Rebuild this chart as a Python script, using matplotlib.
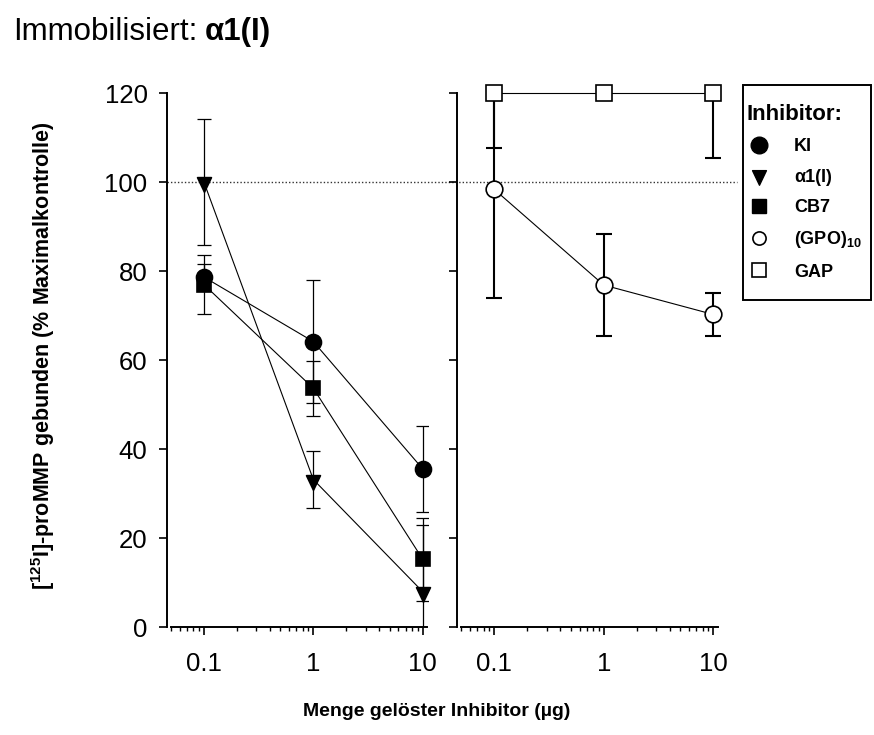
import numpy as np
import matplotlib
matplotlib.use("Agg")
import matplotlib.pyplot as plt
from matplotlib.path import Path
from matplotlib.lines import Line2D
from matplotlib.patches import Rectangle
from matplotlib.ticker import FixedLocator, FixedFormatter, LogLocator, NullFormatter
from matplotlib.transforms import blended_transform_factory

plt.rcParams["font.family"] = ["Liberation Sans", "DejaVu Sans"]
plt.rcParams["mathtext.fontset"] = "custom"
plt.rcParams["mathtext.rm"] = "Liberation Sans"
plt.rcParams["mathtext.bf"] = "Liberation Sans:bold"

# ---- data -------------------------------------------------------------
doses = [0.1, 1, 10]
dose_labels = ["0.1", "1", "10"]
y_ticks = [0, 20, 40, 60, 80, 100, 120]
control_level = 100

ki_mean = [78.7, 64.2, 35.6]
ki_err = [3.0, 13.9, 9.6]
a1_mean = [100.0, 33.2, 8.0]
a1_err = [14.2, 6.5, 15.0]
cb7_mean = [77.0, 53.7, 15.3]
cb7_err = [6.6, 6.2, 9.3]
gpo_mean = [98.4, 76.9, 70.3]
gpo_err = [24.5, 11.5, 4.9]
gap_mean = [120, 120, 120]
gap_err = [12.2, 1.0, 14.5]

legend_labels = ["KI", "α1(I)", "CB7", r"(GPO)$_{\mathbf{10}}$", "GAP"]

# ---- figure -----------------------------------------------------------
W, H = 874, 735
fig = plt.figure(figsize=(W / 100, H / 100), dpi=100)


def px_rect(l, t, r, b):
    return [l / W, 1 - b / H, (r - l) / W, (b - t) / H]


ax1 = fig.add_axes(px_rect(167, 93.3, 428, 627.3))
ax2 = fig.add_axes(px_rect(456.7, 93.3, 720, 627.3))
ax1.set_xlim(0.04588, 11.18)
ax2.set_xlim(0.04535, 11.51)

# downward triangle centred on its centroid
tri_down = Path([(-1, 0.7), (1, 0.7), (0, -1.4), (-1, 0.7)],
                [Path.MOVETO, Path.LINETO, Path.LINETO, Path.CLOSEPOLY])


def series(ax, mean, err, marker, ms, face, elw, cap, zo):
    ax.errorbar(doses, mean, yerr=err, fmt="none", ecolor="k",
                elinewidth=elw, capsize=cap, capthick=elw, zorder=zo)
    ax.plot(doses, mean, color="k", lw=0.8, marker=marker, ms=ms,
            mfc=face, mec="k", mew=1.2, zorder=zo + 1, clip_on=False)


series(ax1, cb7_mean, cb7_err, "s", 10.5, "k", 0.9, 4.7, 3)
series(ax1, ki_mean, ki_err, "o", 11.5, "k", 0.9, 4.7, 5)
series(ax1, a1_mean, a1_err, tri_down, 14, "k", 0.9, 4.7, 7)

series(ax2, gpo_mean, gpo_err, "o", 12, "white", 1.5, 6, 3)
series(ax2, gap_mean, gap_err, "s", 11.5, "white", 1.5, 6, 5)

for ax in (ax1, ax2):
    ax.set_xscale("log")
    ax.set_ylim(0, 120)
    ax.set_yticks(y_ticks)
    ax.xaxis.set_major_locator(FixedLocator(doses))
    ax.xaxis.set_major_formatter(FixedFormatter(dose_labels))
    ax.xaxis.set_minor_locator(LogLocator(base=10, subs=np.arange(2, 10), numticks=50))
    ax.xaxis.set_minor_formatter(NullFormatter())
    for s in ("top", "right"):
        ax.spines[s].set_visible(False)
    for s in ("left", "bottom"):
        ax.spines[s].set_linewidth(1.4)
    ax.spines["bottom"].set_bounds(0.05, 11)
    ax.tick_params(which="major", length=6, width=1.2, labelsize=18.5)
    ax.tick_params(axis="y", pad=8)
    ax.tick_params(axis="x", pad=12)
    ax.tick_params(which="minor", length=3, width=1.0)
    ax.patch.set_alpha(0)

ax2.tick_params(axis="y", labelleft=False)

# dotted reference line at the control level across both panels
ref_tr = blended_transform_factory(fig.transFigure, ax1.transData)
ax1.plot([167 / W, 737 / W], [control_level, control_level], transform=ref_tr,
         color="#333333", lw=1.0, ls=(0, (1, 1.5)), clip_on=False, zorder=0.5)

# ---- texts ------------------------------------------------------------
t1 = fig.text(13 / W, 1 - 40 / H, "Immobilisiert:", fontsize=22.5, va="baseline")
renderer = fig.canvas.get_renderer()
bb = t1.get_window_extent(renderer)
fig.text((bb.x1 + 7) / W, 1 - 40 / H, "α1(I)", fontsize=22.5, va="baseline",
         weight="bold")

fig.text(43 / W, 1 - 356 / H,
         r"[$^{\mathbf{125}}$I]-proMMP gebunden (% Maximalkontrolle)",
         rotation=90, ha="center", va="center", fontsize=15.5, weight="bold")
fig.text(437 / W, 1 - 712 / H, "Menge gelöster Inhibitor (µg)",
         ha="center", va="center", fontsize=14, weight="bold")

# ---- legend -----------------------------------------------------------
legend_frame = Rectangle((743 / W, 1 - 300 / H), 128 / W, 215 / H,
                         transform=fig.transFigure, facecolor="white",
                         edgecolor="k", lw=1.4, zorder=1)
fig.add_artist(legend_frame)

handles = [
    Line2D([], [], ls="none", marker="o", ms=12, mfc="k", mec="k"),
    Line2D([], [], ls="none", marker=tri_down, ms=14, mfc="k", mec="k"),
    Line2D([], [], ls="none", marker="s", ms=10.5, mfc="k", mec="k"),
    Line2D([], [], ls="none", marker="o", ms=9.5, mfc="white", mec="k", mew=1.2),
    Line2D([], [], ls="none", marker="s", ms=9.5, mfc="white", mec="k", mew=1.2),
]
leg = fig.legend(handles, legend_labels, loc="upper left",
                 bbox_to_anchor=(747 / W, 1 - 104 / H), borderaxespad=0,
                 title="Inhibitor:", title_fontproperties={"weight": "bold", "size": 16},
                 alignment="left", prop={"weight": "bold", "size": 13},
                 frameon=False, handlelength=1.3, handletextpad=1.3,
                 labelspacing=0.74, borderpad=0)
leg.set_zorder(5)

fig.savefig("out.png", dpi=100)
